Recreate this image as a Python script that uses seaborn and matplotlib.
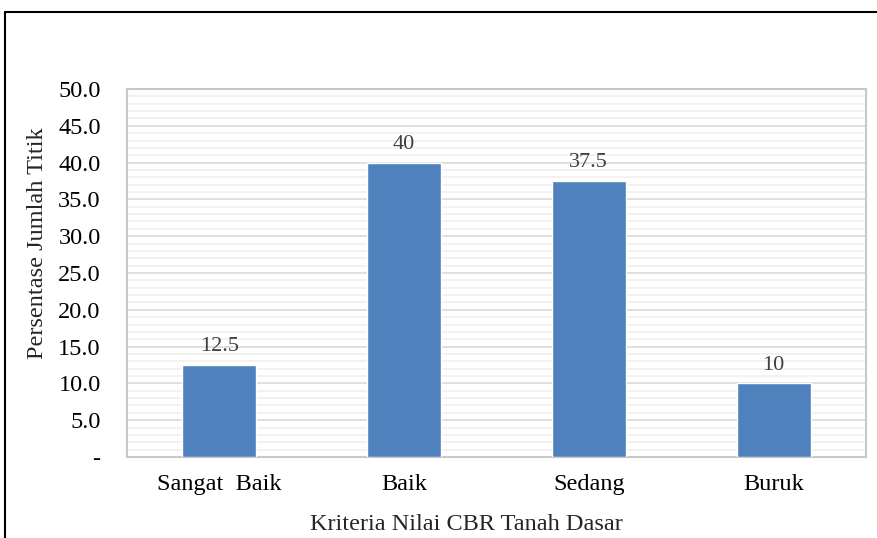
import matplotlib
matplotlib.use("Agg")
import matplotlib.pyplot as plt
import seaborn as sns
import pandas as pd
from matplotlib.lines import Line2D
from matplotlib.ticker import MultipleLocator, FuncFormatter

# Data
kriteria = ["Sangat  Baik", "Baik", "Sedang", "Buruk"]
persentase = [12.5, 40, 37.5, 10]
bar_labels = ["12.5", "40", "37.5", "10"]

sns.set_style("white")
plt.rcParams['font.family'] = ['Liberation Serif', 'DejaVu Serif']

df = pd.DataFrame({"kriteria": kriteria, "persentase": persentase})

fig = plt.figure(figsize=(8.77, 5.38), dpi=100)
ax = fig.add_axes([127 / 877, 1 - 457 / 538, (866 - 127) / 877, (457 - 89) / 538])

sns.barplot(data=df, x="kriteria", y="persentase", color="#4F81BD",
            width=0.4, saturation=1, ax=ax, zorder=3)

ax.set_ylim(0, 50)
ax.set_xlim(-0.5, 3.5)
ax.yaxis.set_major_locator(MultipleLocator(5))
ax.yaxis.set_minor_locator(MultipleLocator(1))
ax.yaxis.set_major_formatter(FuncFormatter(lambda v, p: "-" if v == 0 else f"{v:.1f}"))
ax.grid(True, which="major", axis="y", color="#d9d9d9", linewidth=1.2, zorder=0)
ax.grid(True, which="minor", axis="y", color="#f0f0f0", linewidth=1.2, zorder=0)
ax.set_axisbelow(True)
for s in ax.spines.values():
    s.set_color("#c8c8c8")
    s.set_linewidth(1.5)
ax.tick_params(axis="both", which="both", length=0, labelsize=17.5, colors="black")
ax.tick_params(axis="y", pad=19)
ax.tick_params(axis="x", pad=12)

for i, (v, lab) in enumerate(zip(persentase, bar_labels)):
    ax.text(i, v + 1.2, lab, ha="center", va="bottom", fontsize=16, color="#404040")

ax.set_xlabel("Kriteria Nilai CBR Tanah Dasar", fontsize=17.5)
ax.xaxis.set_label_coords((466 - 127) / 739, (457 - 514) / 368)
ax.set_ylabel("Persentase Jumlah Titik", fontsize=17.5)
ax.yaxis.set_label_coords((48 - 127) / 739, (457 - 243) / 368)

# outer frame (top and left visible)
fig.add_artist(Line2D([5 / 877, 5 / 877], [0, 1 - 12 / 538], color="black", linewidth=1.5,
                      transform=fig.transFigure))
fig.add_artist(Line2D([5 / 877, 1], [1 - 12 / 538, 1 - 12 / 538], color="black", linewidth=1.5,
                      transform=fig.transFigure))

fig.savefig("out.png", dpi=100)
